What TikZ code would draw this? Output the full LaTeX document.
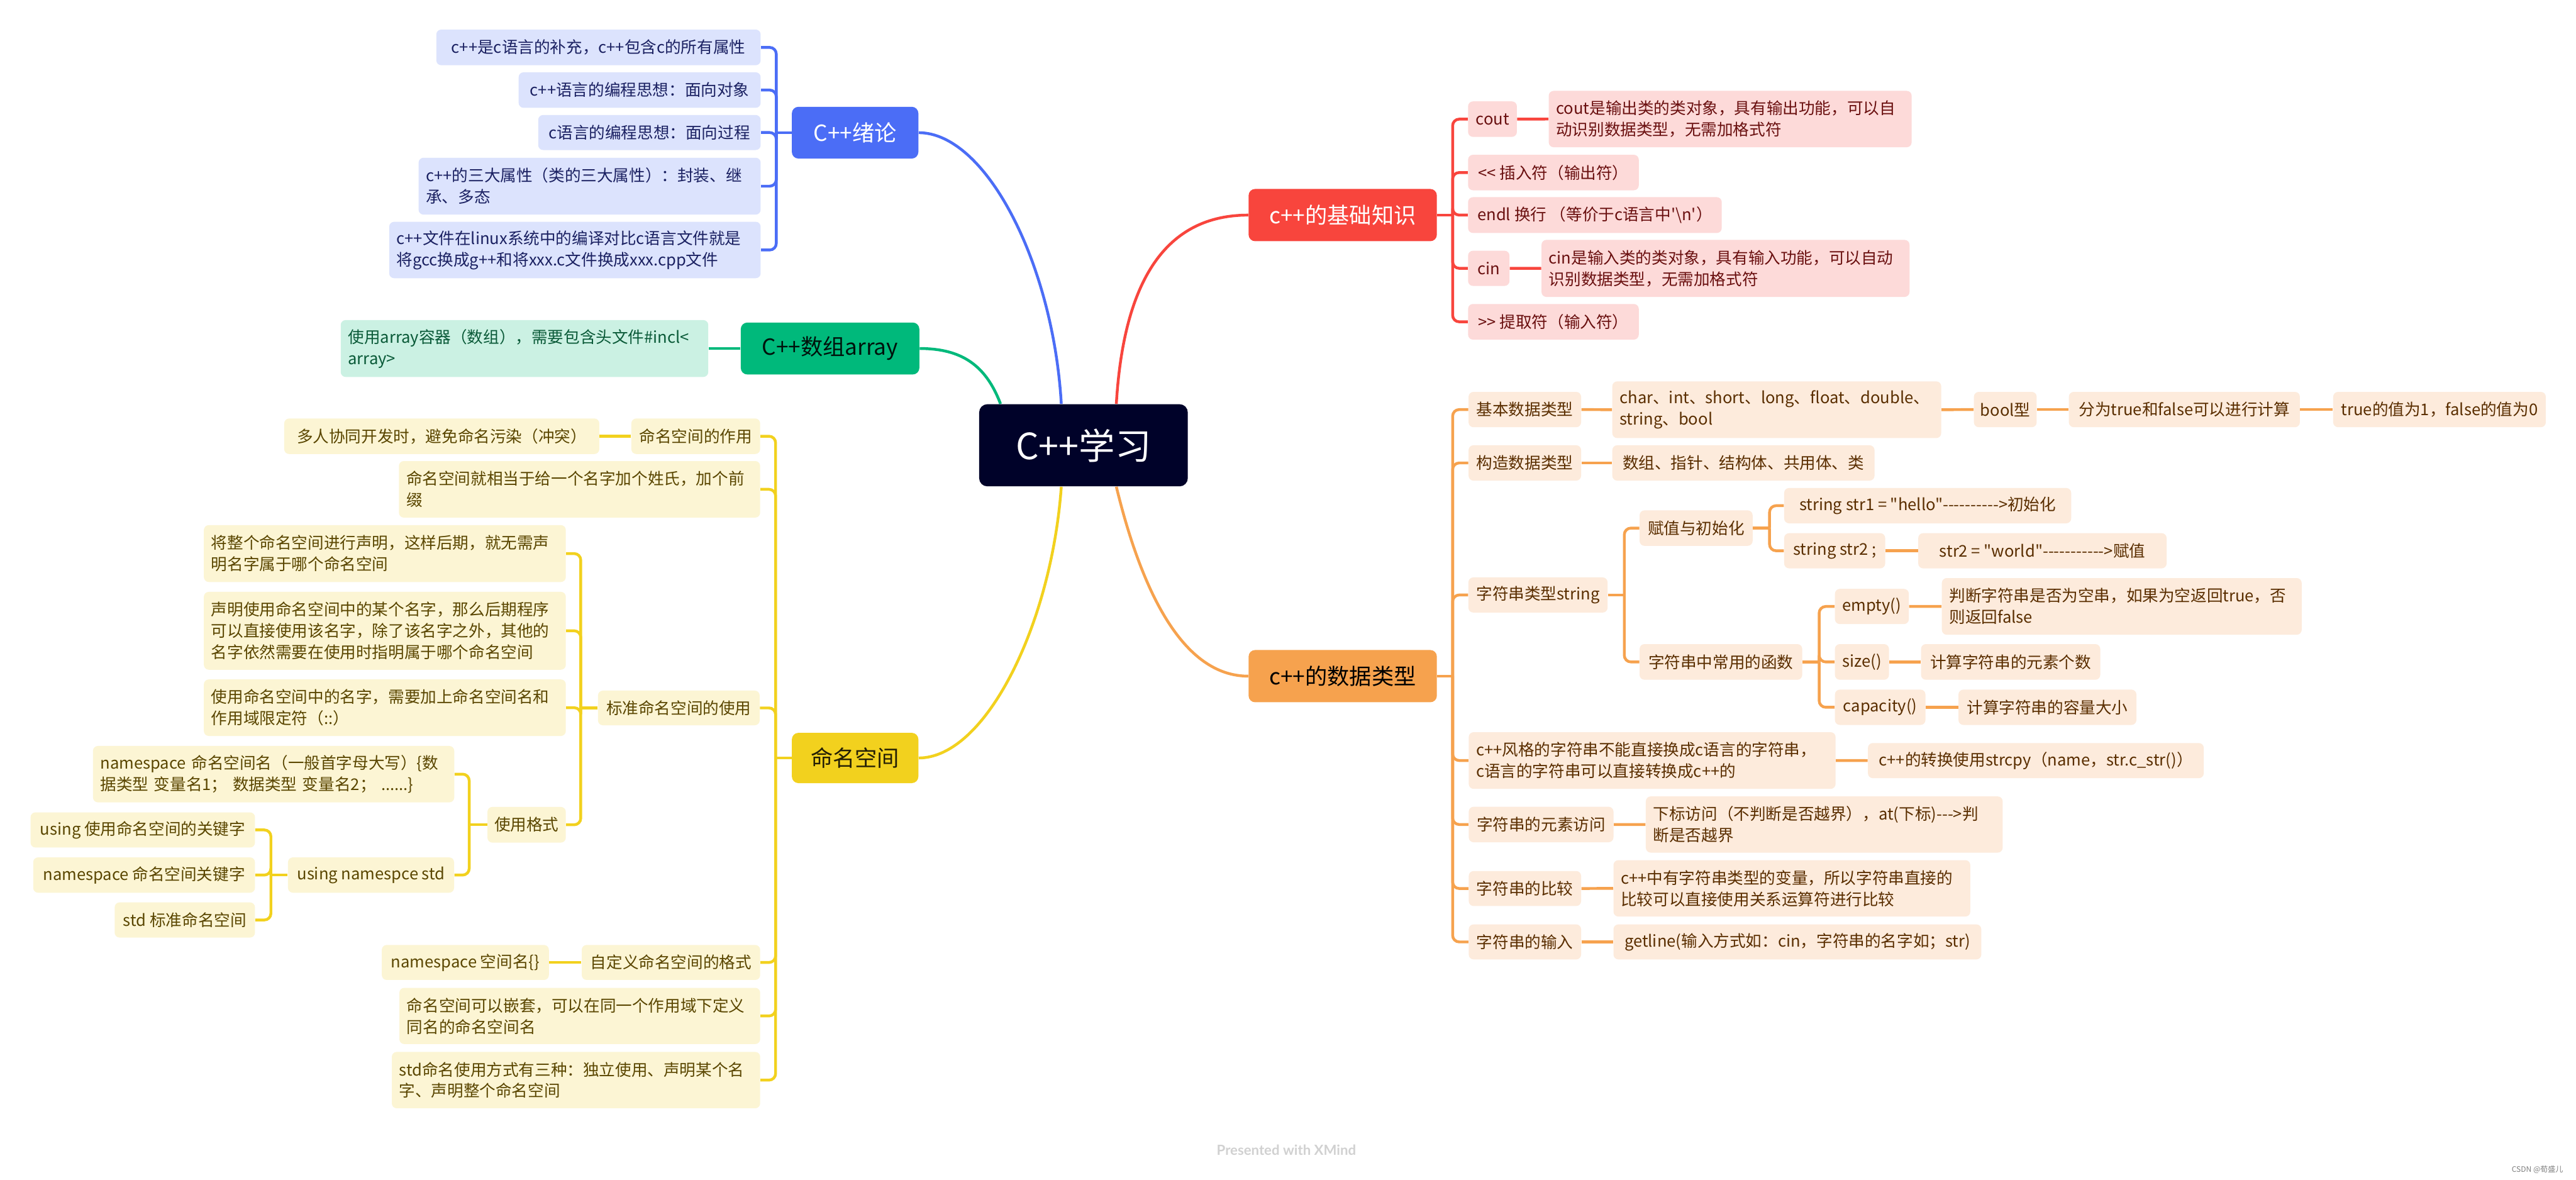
\documentclass[tikz,border=0pt]{standalone}
\usepackage{fontspec}
\setmainfont{Noto Sans CJK SC}[Ligatures=TeXOff]
\newfontfamily\wmfont{Lato}
\usetikzlibrary{calc}
\definecolor{rootF}{HTML}{000229}
\definecolor{blueB}{HTML}{4B6DF6}\definecolor{blueL}{HTML}{DCE3FD}\definecolor{blueT}{HTML}{1B2162}
\definecolor{greenB}{HTML}{00B97B}\definecolor{greenL}{HTML}{CBF1E3}\definecolor{greenT}{HTML}{0A5A38}
\definecolor{yelB}{HTML}{F2D11E}\definecolor{yelL}{HTML}{FCF5D4}\definecolor{yelT}{HTML}{5A4600}
\definecolor{redB}{HTML}{F8453D}\definecolor{redL}{HTML}{FDDAD9}\definecolor{redT}{HTML}{6A1010}
\definecolor{oraB}{HTML}{F6A24E}\definecolor{oraL}{HTML}{FDEBDC}\definecolor{oraT}{HTML}{5A2E00}
\newcommand\lfS[7]{%
  \pgfmathsetmacro\lfW{#5-#3}%
  \pgfmathsetmacro\lfH{#6-#4}%
  \pgfmathsetmacro\lfX{(#3+#5)/2}%
  \pgfmathsetmacro\lfY{(#4+#6)/2}%
  \node[#2,minimum width=\lfW pt,minimum height=\lfH pt] (#1) at (\lfX,\lfY) {#7};}
\newcommand\lfM[7]{%
  \pgfmathsetmacro\lfW{#5-#3}%
  \pgfmathsetmacro\lfH{#6-#4}%
  \pgfmathsetmacro\lfX{(#3+#5)/2}%
  \pgfmathsetmacro\lfY{(#4+#6)/2}%
  \pgfmathsetmacro\lfT{#5-#3-9}%
  \node[#2,align=left,text width=\lfT pt,inner xsep=4.5pt,minimum width=\lfW pt,minimum height=\lfH pt] (#1) at (\lfX,\lfY) {#7};}
\tikzset{
  leaf/.style={rounded corners=3pt,inner xsep=3pt,inner ysep=0pt,font=\fontsize{9.8}{13}\selectfont},
  branch/.style={rounded corners=4pt,inner sep=0pt,font=\fontsize{13.5}{16}\selectfont},
  bl/.style={leaf,fill=blueL,text=blueT},
  gl/.style={leaf,fill=greenL,text=greenT},
  yl/.style={leaf,fill=yelL,text=yelT},
  rl/.style={leaf,fill=redL,text=redT},
  ol/.style={leaf,fill=oraL,text=oraT},
  conn/.style={line width=1.7pt},
  lb/.style={conn,draw=blueB},
  lg/.style={conn,draw=greenB},
  ly/.style={conn,draw=yelB},
  lr/.style={conn,draw=redB},
  lo/.style={conn,draw=oraB},
  rc/.style={rounded corners=4pt},
}
\begin{document}
\begin{tikzpicture}[x=1pt,y=-1pt]
\fill[white] (0,0) rectangle (1568,718);
\useasboundingbox (0,0) rectangle (1568,718);

% root
\lfS{root}{rounded corners=5pt,fill=rootF,text=white,inner sep=0pt,font=\fontsize{22}{26}\selectfont}{596}{246}{723}{296}{C++学习}

% blue branch
\lfS{b1}{branch,fill=blueB,text=white}{482}{65}{559}{96.5}{C++绪论}
\lfS{b1c1}{bl}{265.6}{18}{463}{39.7}{c++是c语言的补充，c++包含c的所有属性}
\lfS{b1c2}{bl}{315.7}{44}{463}{65.6}{c++语言的编程思想：面向对象}
\lfS{b1c3}{bl}{327.6}{70}{463}{91.3}{c语言的编程思想：面向过程}
\lfM{b1c4}{bl}{254.8}{96}{463}{130.6}{c++的三大属性（类的三大属性）：封装、继\\承、多态}
\lfM{b1c5}{bl}{236.9}{135}{463}{169.3}{c++文件在linux系统中的编译对比c语言文件就是\\将gcc换成g++和将xxx.c文件换成xxx.cpp文件}

% green branch
\lfS{g1}{branch,fill=greenB,text=black!90!greenB}{450.9}{196.3}{559.6}{227.9}{C++数组array}
\lfM{g1c1}{gl}{207.4}{194.8}{431.1}{229.4}{使用array容器（数组），需要包含头文件\#incl<\\array>}

% yellow branch
\lfS{y1}{branch,fill=yelB,text=black!85!yelB}{482}{446}{559}{476.6}{命名空间}
\lfS{yc1}{yl}{384.3}{254.7}{462.7}{276.3}{命名空间的作用}
\lfS{yc1a}{yl}{173}{254.7}{364.8}{276.3}{多人协同开发时，避免命名污染（冲突）}
\lfM{yc2}{yl}{242.8}{280.6}{462.7}{315}{命名空间就相当于给一个名字加个姓氏，加个前\\缀}
\lfS{yc3}{yl}{364}{420.3}{462.4}{441.4}{标准命名空间的使用}
\lfM{yc3a}{yl}{124.1}{319.6}{344.4}{354.2}{将整个命名空间进行声明，这样后期，就无需声\\明名字属于哪个命名空间}
\lfM{yc3b}{yl}{124.1}{360.2}{344.4}{407.6}{声明使用命名空间中的某个名字，那么后期程序\\可以直接使用该名字，除了该名字之外，其他的\\名字依然需要在使用时指明属于哪个命名空间}
\lfM{yc3c}{yl}{124.1}{413.5}{344.4}{447.9}{使用命名空间中的名字，需要加上命名空间名和\\作用域限定符（::）}
\lfS{yc3d}{yl}{296.7}{491.1}{344.4}{512.8}{使用格式}
\lfM{yc3d1}{yl}{56.6}{454}{276.5}{488.3}{namespace 命名空间名（一般首字母大写）\{数\\据类型 变量名1； 数据类型 变量名2； ......\}}
\lfS{yc3d2}{yl}{175.3}{521.8}{276.4}{543.3}{using namespce std}
\lfS{u1}{yl}{18.6}{494.4}{155.2}{515.8}{using 使用命名空间的关键字}
\lfS{u2}{yl}{20.2}{521.8}{155.2}{543.3}{namespace 命名空间关键字}
\lfS{u3}{yl}{69.8}{549.2}{155.2}{570.6}{std 标准命名空间}
\lfS{yc4}{yl}{354.1}{575.1}{462.7}{596.4}{自定义命名空间的格式}
\lfS{yc4a}{yl}{232.4}{575.1}{334.1}{596.4}{namespace 空间名\{\}}
\lfM{yc5}{yl}{243.1}{601.2}{462.7}{635.4}{命名空间可以嵌套，可以在同一个作用域下定义\\同名的命名空间名}
\lfM{yc6}{yl}{238.5}{640.2}{462.7}{674.5}{std命名使用方式有三种：独立使用、声明某个名\\字、声明整个命名空间}

% red branch
\lfS{r1}{branch,fill=redB,text=white}{760}{115}{874.6}{146.8}{c++的基础知识}
\lfS{rc1}{rl}{893.6}{61.7}{923.3}{83.3}{cout}
\lfM{rc1a}{rl}{942.7}{55.3}{1163.6}{89.6}{cout是输出类的类对象，具有输出功能，可以自\\动识别数据类型，无需加格式符}
\lfS{rc2}{rl}{893.6}{94.2}{997.5}{115.8}{<< 插入符（输出符）}
\lfS{rc3}{rl}{893.6}{120}{1048}{141.8}{endl 换行 （等价于c语言中'\textbackslash n'）}
\lfS{rc4}{rl}{893.6}{152.6}{918.8}{174}{cin}
\lfM{rc4a}{rl}{938.3}{146}{1162.3}{180.7}{cin是输入类的类对象，具有输入功能，可以自动\\识别数据类型，无需加格式符}
\lfS{rc5}{rl}{893.6}{185}{997.5}{206.7}{>> 提取符（输入符）}

% orange branch
\lfS{o1}{branch,fill=oraB,text=black}{760}{395.6}{874.6}{427.4}{c++的数据类型}
\lfS{oc1}{ol}{893.9}{238.5}{962.4}{260}{基本数据类型}
\lfM{oc1a}{ol}{981.4}{232.1}{1181.6}{266.6}{char、int、short、long、float、double、\\string、bool}
\lfS{oc1b}{ol}{1201.5}{238.5}{1239.7}{260}{bool型}
\lfS{oc1c}{ol}{1259.3}{238.5}{1399.9}{260}{分为true和false可以进行计算}
\lfS{oc1d}{ol}{1420.2}{238.5}{1549.6}{260}{true的值为1，false的值为0}
\lfS{oc2}{ol}{893.9}{271}{962.4}{292.5}{构造数据类型}
\lfS{oc2a}{ol}{981.4}{271}{1141}{292.5}{数组、指针、结构体、共用体、类}
\lfS{oc3}{ol}{893.8}{351.4}{978.5}{372.8}{字符串类型string}
\lfS{oc3a}{ol}{998}{310.6}{1066.8}{332.2}{赋值与初始化}
\lfS{s1}{ol}{1086}{297}{1260.7}{318.5}{string str1 = "hello"---------->初始化}
\lfS{s2}{ol}{1086}{324.5}{1147.5}{345.9}{string str2 ;}
\lfS{s2a}{ol}{1167.6}{324.5}{1318.8}{345.9}{str2 = "world"----------->赋值}
\lfS{oc3b}{ol}{998}{392}{1097}{413.7}{字符串中常用的函数}
\lfS{f1}{ol}{1116.9}{358.4}{1161.9}{379.8}{empty()}
\lfM{f1a}{ol}{1182}{351.8}{1401}{386.3}{判断字符串是否为空串，如果为空返回true，否\\则返回false}
\lfS{f2}{ol}{1116.9}{392}{1149.8}{413.7}{size()}
\lfS{f2a}{ol}{1169.3}{392}{1278.4}{413.7}{计算字符串的元素个数}
\lfS{f3}{ol}{1116.9}{419.7}{1172}{441.2}{capacity()}
\lfS{f3a}{ol}{1192.1}{419.7}{1300.4}{441.2}{计算字符串的容量大小}
\lfM{oc4}{ol}{894}{445.6}{1117.3}{480.1}{c++风格的字符串不能直接换成c语言的字符串，\\c语言的字符串可以直接转换成c++的}
\lfS{oc4a}{ol}{1137}{452.2}{1341.4}{473.6}{c++的转换使用strcpy（name，str.c\_str()）}
\lfS{oc5}{ol}{894}{491}{982.1}{512.6}{字符串的元素访问}
\lfM{oc5a}{ol}{1001.8}{484.7}{1219}{518.9}{下标访问（不判断是否越界），at(下标)--->判\\断是否越界}
\lfS{oc6}{ol}{894}{530.1}{962.4}{551.4}{字符串的比较}
\lfM{oc6a}{ol}{982.1}{523.5}{1199.3}{557.8}{c++中有字符串类型的变量，所以字符串直接的\\比较可以直接使用关系运算符进行比较}
\lfS{oc7}{ol}{894}{562.6}{962.4}{583.9}{字符串的输入}
\lfS{oc7a}{ol}{982.1}{562.6}{1206}{583.9}{getline(输入方式如：cin，字符串的名字如；str)}

% main curves
\draw[lb] ([xshift=-13.5pt]root.north) .. controls (641,160) and (600,80.75) .. (b1.east);
\draw[lg] ([xshift=-50.5pt]root.north) .. controls (600,222) and (585,212.1) .. (g1.east);
\draw[lr] ([xshift=20pt]root.north) .. controls (684,170) and (710,130.9) .. (r1.west);
\draw[ly] ([xshift=-13.5pt]root.south) .. controls (640,380) and (600,461.3) .. (y1.east);
\draw[lo] ([xshift=20pt]root.south) .. controls (695,360) and (720,411.5) .. (o1.west);

% blue brackets
\coordinate (jb) at ([xshift=-9.3pt]b1.west);
\draw[lb] (b1.west) -- (jb);
\foreach \c in {b1c1,b1c2,b1c3,b1c4,b1c5} \draw[lb,rc] (jb) |- (\c.east);

% green
\draw[lg] (g1.west) -- (g1c1.east);

% yellow
\coordinate (jy) at ([xshift=-9.7pt]y1.west);
\draw[ly] (y1.west) -- (jy);
\foreach \c in {yc1,yc2,yc3,yc4,yc5,yc6} \draw[ly,rc] (jy) |- (\c.east);
\draw[ly] (yc1.west) -- (yc1a.east);
\coordinate (jy3) at ([xshift=-10.3pt]yc3.west);
\draw[ly] (yc3.west) -- (jy3);
\foreach \c in {yc3a,yc3b,yc3c,yc3d} \draw[ly,rc] (jy3) |- (\c.east);
\coordinate (jy3d) at ([xshift=-10.9pt]yc3d.west);
\draw[ly] (yc3d.west) -- (jy3d);
\foreach \c in {yc3d1,yc3d2} \draw[ly,rc] (jy3d) |- (\c.east);
\coordinate (jyu) at ([xshift=-10.2pt]yc3d2.west);
\draw[ly] (yc3d2.west) -- (jyu);
\foreach \c in {u1,u2,u3} \draw[ly,rc] (jyu) |- (\c.east);
\draw[ly] (yc4.west) -- (yc4a.east);

% red
\coordinate (jr) at ([xshift=9.4pt]r1.east);
\draw[lr] (r1.east) -- (jr);
\foreach \c in {rc1,rc2,rc3,rc4,rc5} \draw[lr,rc] (jr) |- (\c.west);
\draw[lr] (rc1.east) -- (rc1a.west);
\draw[lr] (rc4.east) -- (rc4a.west);

% orange
\coordinate (jo) at ([xshift=9.4pt]o1.east);
\draw[lo] (o1.east) -- (jo);
\foreach \c in {oc1,oc2,oc3,oc4,oc5,oc6,oc7} \draw[lo,rc] (jo) |- (\c.west);
\draw[lo] (oc1.east) -- (oc1a.west);
\draw[lo] (oc1a.east) -- (oc1b.west);
\draw[lo] (oc1b.east) -- (oc1c.west);
\draw[lo] (oc1c.east) -- (oc1d.west);
\draw[lo] (oc2.east) -- (oc2a.west);
\coordinate (jo3) at ([xshift=10pt]oc3.east);
\draw[lo] (oc3.east) -- (jo3);
\foreach \c in {oc3a,oc3b} \draw[lo,rc] (jo3) |- (\c.west);
\coordinate (jo3a) at ([xshift=10.1pt]oc3a.east);
\draw[lo] (oc3a.east) -- (jo3a);
\foreach \c in {s1,s2} \draw[lo,rc] (jo3a) |- (\c.west);
\draw[lo] (s2.east) -- (s2a.west);
\coordinate (jo3b) at ([xshift=10.1pt]oc3b.east);
\draw[lo] (oc3b.east) -- (jo3b);
\foreach \c in {f1,f2,f3} \draw[lo,rc] (jo3b) |- (\c.west);
\draw[lo] (f1.east) -- (f1a.west);
\draw[lo] (f2.east) -- (f2a.west);
\draw[lo] (f3.east) -- (f3a.west);
\draw[lo] (oc4.east) -- (oc4a.west);
\draw[lo] (oc5.east) -- (oc5a.west);
\draw[lo] (oc6.east) -- (oc6a.west);
\draw[lo] (oc7.east) -- (oc7a.west);

% watermarks
\node[font=\wmfont\bfseries\fontsize{8.5}{10}\selectfont,text=black!18,inner sep=0pt] (wm) at (783,700) {Presented with XMind};
\node[font=\fontsize{4.6}{5.5}\selectfont,text=black!50,inner sep=0pt] (csdn) at (1544.5,712) {CSDN @荀盛儿};
\end{tikzpicture}
\end{document}
